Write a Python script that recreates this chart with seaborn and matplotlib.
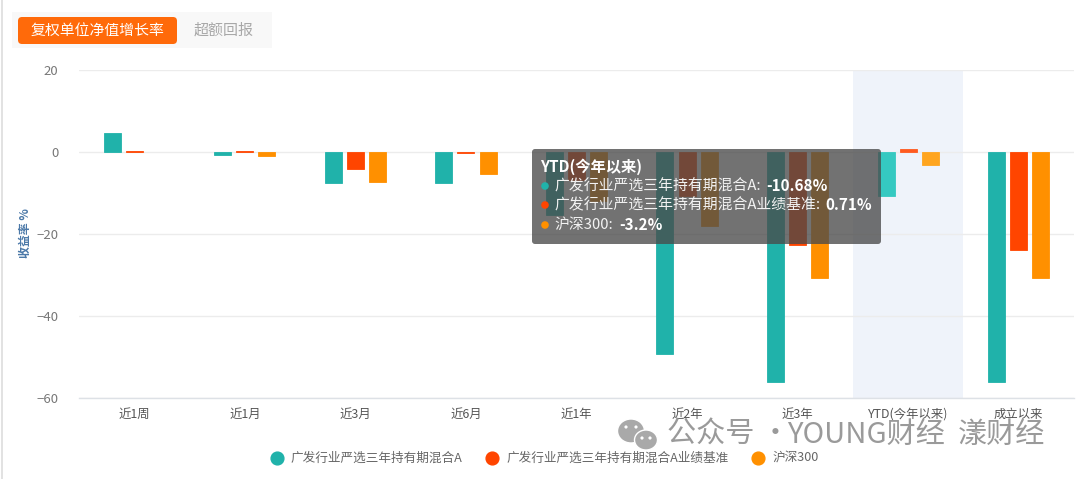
import numpy as np
import pandas as pd
import matplotlib
matplotlib.use("Agg")
import matplotlib.pyplot as plt
from matplotlib.lines import Line2D
from matplotlib.patches import FancyBboxPatch, Ellipse, Circle
import seaborn as sns

categories = ["近1周", "近1月", "近3月", "近6月", "近1年", "近2年", "近3年", "YTD(今年以来)", "成立以来"]
fund_name = "广发行业严选三年持有期混合A"
bench_name = "广发行业严选三年持有期混合A业绩基准"
index_name = "沪深300"
fund_values = [4.6, -0.7, -7.5, -7.5, -15.3, -49.3, -56.0, -10.68, -56.0]
bench_values = [0.35, 0.3, -4.2, -0.3, -6.8, -10.8, -22.8, 0.71, -23.8]
index_values = [np.nan, -0.9, -7.3, -5.4, -12.0, -18.1, -30.8, -3.2, -30.8]
series_colors = ["#20b2aa", "#ff4500", "#ff9000"]
hover_colors = ["#35c9c1", "#ff5a1f", "#ffa51f"]
HOVER_INDEX = categories.index("YTD(今年以来)")

sns.set_theme(style="white")
plt.rcParams["font.family"] = ["Noto Sans CJK SC", "DejaVu Sans"]

df = pd.DataFrame({
    "period": categories * 3,
    "series": [fund_name] * 9 + [bench_name] * 9 + [index_name] * 9,
    "value": fund_values + bench_values + index_values,
})

W, H = 1080, 479
fig = plt.figure(figsize=(W / 100, H / 100), dpi=100, facecolor="white")
ax = fig.add_axes([79 / W, 1 - 398 / H, (1074 - 79) / W, (398 - 70) / H])

ax.axvspan(6.5, 7.5, color="#eff3fa", lw=0, zorder=0)
sns.barplot(data=df, x="period", y="value", hue="series", palette=series_colors,
            width=0.6, gap=0.23, saturation=1, errorbar=None, legend=False,
            ax=ax, zorder=3)
for cont, base, hover in zip(ax.containers, series_colors, hover_colors):
    for bar in cont:
        centre = bar.get_x() + bar.get_width() / 2
        c = hover if abs(centre - HOVER_INDEX) < 0.4 else base
        bar.set_facecolor(c)
        bar.set_edgecolor(c)
        bar.set_linewidth(0.6)

ax.set_xlim(-0.5, 8.5)
ax.set_ylim(-60, 20)
ax.set_xlabel("")
ax.set_ylabel("")
ax.set_yticks([-60, -40, -20, 0, 20])
ax.yaxis.grid(True, color="#ececec", lw=1)
ax.set_axisbelow(True)
for s in ["top", "left", "right"]:
    ax.spines[s].set_visible(False)
ax.spines["bottom"].set_color("#dde1e6")
ax.spines["bottom"].set_linewidth(1)
ax.set_xticks(np.arange(-0.5, 9), minor=True)
ax.tick_params(axis="x", which="minor", length=7, width=1, color="#dde1e6")
ax.tick_params(axis="x", which="major", length=0, pad=7, labelsize=8.9, labelcolor="#555555")
ax.tick_params(axis="y", length=0, pad=15, labelsize=9.5, labelcolor="#777777")


def fx(p):
    return p / W


def fy(p):
    return 1 - p / H


def ftext(x, y, s, **kw):
    kw.setdefault("va", "center")
    return fig.text(fx(x), fy(y), s, **kw)


def frect(x0, y0, x1, y1, color, radius=0, alpha=1, zorder=5):
    # drawn in pixels so that rounded corners stay round
    p = FancyBboxPatch((x0 + radius, H - y1 + radius), x1 - x0 - 2 * radius, y1 - y0 - 2 * radius,
                       boxstyle=f"round,pad={radius},rounding_size={radius}",
                       transform=None, fc=color, ec="none", alpha=alpha, zorder=zorder)
    fig.add_artist(p)
    return p


def fdot(x, y, r, color, zorder=7):
    p = Circle((x, H - y), r, transform=None, fc=color, ec="none", zorder=zorder)
    fig.add_artist(p)


# page border
fig.add_artist(Line2D([1.5 / W, 1.5 / W], [0, 1], color="#dddddd", lw=1.2))

# tabs
frect(12, 12, 272, 48, "#f8f8f8", zorder=1)
frect(18, 17, 177, 44, "#ff6a0a", radius=4, zorder=2)
ftext(97.5, 30.5, "复权单位净值增长率", color="white", fontsize=10.7, ha="center", zorder=3)
ftext(224, 30.5, "超额回报", color="#a8a8a8", fontsize=10.8, ha="center", zorder=3)

# y title
ftext(25, 233, "收益率 %", color="#4a78a8", fontsize=8.6, rotation=90, ha="center",
      fontweight="bold")

# legend
handles = [Line2D([], [], ls="none", marker="o", ms=9.2, color=c) for c in series_colors]
fig.legend(handles, [fund_name, bench_name, index_name], ncol=3, frameon=False,
           loc="center left", bbox_to_anchor=(fx(253), fy(458.5)),
           fontsize=9.1, labelcolor="#666666", handletextpad=0.1, columnspacing=1.35)

# tooltip
frect(532, 149, 881, 244, "#4a4a4a", radius=3, alpha=0.78, zorder=5)
ftext(540, 167, "YTD(今年以来)", color="white", fontsize=11, fontweight="bold", zorder=7)
rows = [
    (186, fund_name + ":", "-10.68%", 766, series_colors[0]),
    (205, bench_name + ":", "0.71%", 825, series_colors[1]),
    (225, index_name + ":", "-3.2%", 619, series_colors[2]),
]
for y, label, val, vx, c in rows:
    fdot(545, y, 3.8, c)
    ftext(554, y, label, color="#f2f2f2", fontsize=10.7, zorder=7)
    ftext(vx, y, val, color="white", fontsize=11, fontweight="bold", zorder=7)

# watermark
ftext(667, 435, "公众号 ·", color="#9a9a9a", fontsize=21, zorder=8)
ftext(787, 435, "YOUNG财经", color="#9a9a9a", fontsize=21, zorder=8)
ftext(958, 435, "漾财经", color="#9a9a9a", fontsize=21, zorder=8)
for cx, cy, a, b in [(631, 431, 13.5, 12), (646, 440, 11.5, 10)]:
    fig.add_artist(Ellipse((cx, H - cy), 2 * a, 2 * b, transform=None, fc="#a9a9a9",
                           ec="white", lw=1, zorder=8))
for ex, ey in [(626, 427), (636, 427), (642, 438), (650, 438)]:
    fdot(ex, ey, 1.6, "white", zorder=9)

fig.savefig("out.png", dpi=100, facecolor="white")
